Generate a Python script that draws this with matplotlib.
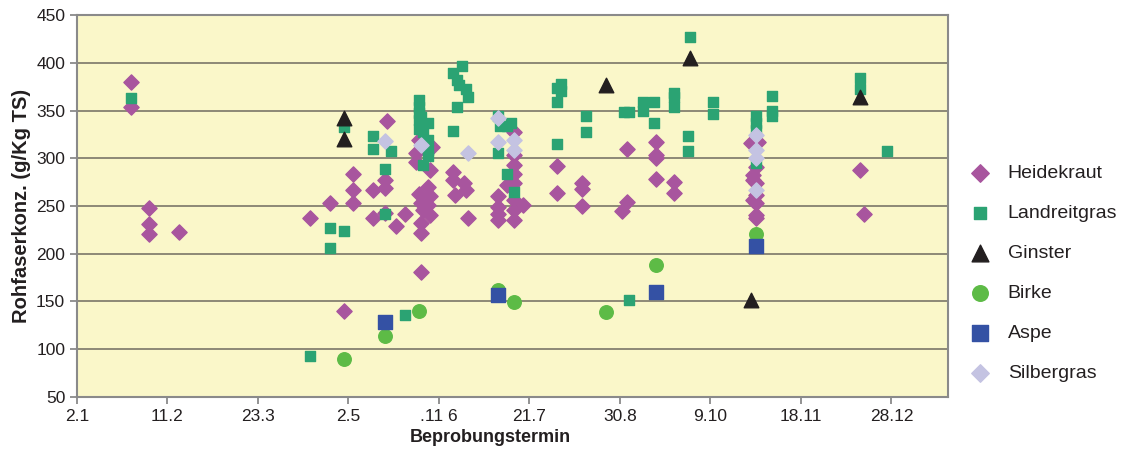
import matplotlib
matplotlib.use('Agg')
from matplotlib import pyplot as plt
import numpy as np

# x = days after 2 Jan, y = Rohfaser (g/kg TS)
heide_x = [24, 24, 32, 32, 32, 45,
           103, 112, 118, 122, 122, 122,
           131, 131, 136, 136, 136, 137, 141, 145,
           151, 157, 150, 150, 156, 155, 151, 156, 152, 155, 153, 156, 152, 152, 152,
           166, 166, 171, 172, 167, 173,
           193, 193, 193, 193, 190, 193, 186, 193, 197, 186, 193, 186, 186, 193,
           212, 212, 223, 223, 223, 241, 243, 243,
           256, 256, 256, 256, 264, 264,
           298, 301, 300, 299, 299, 300, 300, 299, 300, 300, 300,
           346, 348]
heide_y = [380, 354, 248, 231, 221, 223,
           237, 253, 140, 284, 267, 253,
           267, 237, 277, 269, 243, 339, 229, 242,
           319, 312, 305, 296, 288, 270, 263, 260, 253, 251, 246, 241, 232, 222, 181,
           286, 277, 274, 267, 262, 237,
           328, 303, 293, 284, 272, 274, 260, 256, 251, 249, 246, 242, 235, 235,
           292, 264, 274, 268, 250, 245, 254, 310,
           317, 303, 300, 278, 275, 264,
           316, 317, 291, 282, 277, 274, 261, 256, 253, 241, 237,
           288, 242]

land_x = [24,
          103, 112, 112, 118, 118, 131, 131, 136, 136, 139, 145,
          151, 151, 151, 151, 152, 155, 151, 153, 155, 155, 155, 153,
          170, 166, 168, 169, 172, 173, 168, 166,
          186, 187, 190, 192, 186, 190, 193,
          212, 212, 212, 214, 214,
          225, 225, 242, 244, 244, 250, 250, 255, 255,
          264, 264, 264, 271, 270, 270, 281, 281,
          300, 300, 300, 300, 307, 307, 307,
          346, 346, 358]
land_y = [363,
          93, 227, 206, 224, 333, 323, 310, 289, 242, 308, 136,
          361, 354, 347, 340, 343, 337, 331, 328, 319, 309, 302, 293,
          397, 389, 382, 377, 372, 364, 354, 329,
          344, 334, 334, 337, 305, 284, 265,
          374, 359, 315, 378, 370,
          344, 327, 348, 348, 152, 359, 350, 359, 337,
          368, 364, 354, 427, 323, 308, 359, 346,
          344, 337, 330, 295, 365, 350, 344,
          384, 373, 308]

ginster_x = [118, 118, 234, 271, 298, 346]
ginster_y = [342, 320, 377, 405, 152, 364]

birke_x = [118, 136, 151, 186, 193, 234, 256, 300]
birke_y = [90, 114, 140, 162, 149, 139, 188, 221]

aspe_x = [136, 186, 256, 300]
aspe_y = [129, 157, 160, 208]

silber_x = [136, 152, 173, 186, 186, 193, 193, 300, 300, 300, 300]
silber_y = [318, 314, 306, 342, 317, 319, 309, 324, 309, 300, 267]

tick_pos = [0, 40, 80, 120, 160, 200, 240, 280, 320, 360]
tick_lbl = ['2.1', '11.2', '23.3', '2.5', '.11 6', '21.7', '30.8', '9.10', '18.11', '28.12']

plt.rcParams['font.family'] = ['Liberation Sans', 'DejaVu Sans']

fig = plt.figure(figsize=(11.29, 4.55), dpi=100)
ax = fig.add_axes([0.0682, 0.1275, 0.7715, 0.8395])
ax.set_facecolor('#faf7c9')

for v in range(100, 451, 50):
    ax.axhline(v, color='#6f6b60', linewidth=1.1, zorder=1)

ax.scatter(heide_x, heide_y, marker='D', s=60, color='#a8559e', label='Heidekraut', zorder=3)
ax.scatter(land_x, land_y, marker='s', s=48, color='#2ba373', label='Landreitgras', zorder=3)
ax.scatter(ginster_x, ginster_y, marker='^', s=110, color='#231f20', label='Ginster', zorder=4)
ax.scatter(birke_x, birke_y, marker='o', s=95, color='#5dbb46', label='Birke', zorder=3)
ax.scatter(aspe_x, aspe_y, marker='s', s=105, color='#3451a4', label='Aspe', zorder=4)
ax.scatter(silber_x, silber_y, marker='D', s=60, color='#c4c3e2', label='Silbergras', zorder=4)

ax.set_xlim(0, 385)
ax.set_ylim(50, 450)
ax.set_xticks(tick_pos)
ax.set_xticklabels(tick_lbl)
ax.set_yticks(range(50, 451, 50))
ax.tick_params(axis='both', labelsize=12.5, labelcolor='#231f20', color='#808080',
               length=5, width=1.2, direction='out')
for s in ax.spines.values():
    s.set_color('#8a8a8a')
    s.set_linewidth(1.5)

ax.set_xlabel('Beprobungstermin', fontsize=13, fontweight='bold', color='#231f20', labelpad=2)
ax.xaxis.set_label_coords(0.474, -0.085)
ax.set_ylabel('Rohfaserkonz. (g/Kg TS)', fontsize=14.5, fontweight='bold', color='#231f20')
ax.yaxis.set_label_coords(-0.053, 0.5)

leg = fig.legend(loc='center left', bbox_to_anchor=(0.835, 0.40), frameon=False, fontsize=14,
                 labelspacing=1.15, handletextpad=0.45, markerscale=1.15)
for t in leg.get_texts():
    t.set_color('#231f20')

fig.savefig('out.png', dpi=100)
